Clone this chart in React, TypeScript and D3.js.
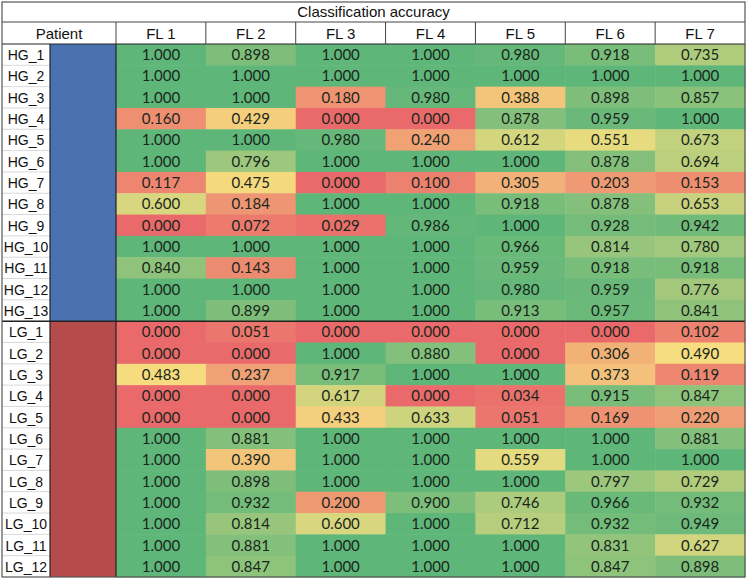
import React, { useEffect, useRef } from 'react';
import * as d3 from 'd3';

const columns = ['FL 1', 'FL 2', 'FL 3', 'FL 4', 'FL 5', 'FL 6', 'FL 7'];
const hgPatients = ['HG_1', 'HG_2', 'HG_3', 'HG_4', 'HG_5', 'HG_6', 'HG_7', 'HG_8', 'HG_9', 'HG_10', 'HG_11', 'HG_12', 'HG_13'];
const lgPatients = ['LG_1', 'LG_2', 'LG_3', 'LG_4', 'LG_5', 'LG_6', 'LG_7', 'LG_8', 'LG_9', 'LG_10', 'LG_11', 'LG_12'];

const hgValues = [
  [1.0, 0.898, 1.0, 1.0, 0.98, 0.918, 0.735],
  [1.0, 1.0, 1.0, 1.0, 1.0, 1.0, 1.0],
  [1.0, 1.0, 0.18, 0.98, 0.388, 0.898, 0.857],
  [0.16, 0.429, 0.0, 0.0, 0.878, 0.959, 1.0],
  [1.0, 1.0, 0.98, 0.24, 0.612, 0.551, 0.673],
  [1.0, 0.796, 1.0, 1.0, 1.0, 0.878, 0.694],
  [0.117, 0.475, 0.0, 0.1, 0.305, 0.203, 0.153],
  [0.6, 0.184, 1.0, 1.0, 0.918, 0.878, 0.653],
  [0.0, 0.072, 0.029, 0.986, 1.0, 0.928, 0.942],
  [1.0, 1.0, 1.0, 1.0, 0.966, 0.814, 0.78],
  [0.84, 0.143, 1.0, 1.0, 0.959, 0.918, 0.918],
  [1.0, 1.0, 1.0, 1.0, 0.98, 0.959, 0.776],
  [1.0, 0.899, 1.0, 1.0, 0.913, 0.957, 0.841],
];

const lgValues = [
  [0.0, 0.051, 0.0, 0.0, 0.0, 0.0, 0.102],
  [0.0, 0.0, 1.0, 0.88, 0.0, 0.306, 0.49],
  [0.483, 0.237, 0.917, 1.0, 1.0, 0.373, 0.119],
  [0.0, 0.0, 0.617, 0.0, 0.034, 0.915, 0.847],
  [0.0, 0.0, 0.433, 0.633, 0.051, 0.169, 0.22],
  [1.0, 0.881, 1.0, 1.0, 1.0, 1.0, 0.881],
  [1.0, 0.39, 1.0, 1.0, 0.559, 1.0, 1.0],
  [1.0, 0.898, 1.0, 1.0, 1.0, 0.797, 0.729],
  [1.0, 0.932, 0.2, 0.9, 0.746, 0.966, 0.932],
  [1.0, 0.814, 0.6, 1.0, 0.712, 0.932, 0.949],
  [1.0, 0.881, 1.0, 1.0, 1.0, 0.831, 0.627],
  [1.0, 0.847, 1.0, 1.0, 1.0, 0.847, 0.898],
];

const App = () => {
  const ref = useRef<SVGSVGElement>(null);

  useEffect(() => {
    const svg = d3.select(ref.current);
    svg.selectAll('*').remove();

    const left = 2, right = 745, top = 2, bottom = 577;
    const titleH = 20, headH = 22;
    const labelW = 48, groupW = 66;
    const dataTop = top + titleH + headH;
    const dataLeft = left + labelW + groupW;
    const sans = '"Liberation Sans", Arial, sans-serif';

    const patients = [...hgPatients, ...lgPatients];
    const rows = patients.map((p, i) => ({
      name: p,
      values: i < hgPatients.length ? hgValues[i] : lgValues[i - hgPatients.length],
    }));

    const y = d3.scaleBand().domain(patients).range([dataTop, bottom]);
    const x = d3.scaleBand().domain(columns).range([dataLeft, right]);
    const color = d3.scaleLinear<string>()
      .domain([0, 0.5, 1])
      .range(['#ea6a6b', '#f6df80', '#5fb679'])
      .interpolate(d3.interpolateRgb);

    svg.append('rect').attr('width', 747).attr('height', 580).attr('fill', '#fff');

    // title
    svg.append('text')
      .attr('x', (left + right) / 2)
      .attr('y', top + titleH / 2 + 5)
      .attr('text-anchor', 'middle')
      .style('font-family', sans)
      .style('font-size', '15px')
      .attr('fill', '#111')
      .text('Classification accuracy');

    // header
    const hy = top + titleH;
    svg.append('text')
      .attr('x', left + (labelW + groupW) / 2)
      .attr('y', hy + headH / 2 + 5.5)
      .attr('text-anchor', 'middle')
      .style('font-family', sans)
      .style('font-size', '15px')
      .attr('fill', '#111')
      .text('Patient');
    svg.selectAll('.colhead')
      .data(columns)
      .enter()
      .append('text')
      .attr('x', (d) => x(d)! + x.bandwidth() / 2)
      .attr('y', hy + headH / 2 + 5.5)
      .attr('text-anchor', 'middle')
      .style('font-family', sans)
      .style('font-size', '15px')
      .attr('fill', '#111')
      .text((d) => d);

    // group colour blocks
    const groups = [
      { fill: '#4a72b0', list: hgPatients },
      { fill: '#b64b4b', list: lgPatients },
    ];
    groups.forEach((g) => {
      const y0 = y(g.list[0])!;
      const y1 = y(g.list[g.list.length - 1])! + y.bandwidth();
      svg.append('rect')
        .attr('x', left + labelW)
        .attr('y', y0)
        .attr('width', groupW)
        .attr('height', y1 - y0)
        .attr('fill', g.fill);
    });

    // cells
    const rowG = svg.selectAll('.row')
      .data(rows)
      .enter()
      .append('g')
      .attr('transform', (d) => `translate(0,${y(d.name)})`);

    rowG.selectAll('rect.cell')
      .data((d) => d.values.map((v, j) => ({ v, col: columns[j] })))
      .enter()
      .append('rect')
      .attr('class', 'cell')
      .attr('x', (d) => x(d.col)!)
      .attr('width', x.bandwidth() + 0.5)
      .attr('height', y.bandwidth() + 0.5)
      .attr('fill', (d) => color(d.v));

    rowG.selectAll('text.val')
      .data((d) => d.values.map((v, j) => ({ v, col: columns[j] })))
      .enter()
      .append('text')
      .attr('class', 'val')
      .attr('x', (d) => x(d.col)! + x.bandwidth() / 2)
      .attr('y', y.bandwidth() / 2 + 5.5)
      .attr('text-anchor', 'middle')
      .style('font-family', 'Lato, "Open Sans", sans-serif')
      .style('font-size', '15px')
      .attr('fill', '#1a261c')
      .text((d) => d.v.toFixed(3));

    rowG.append('text')
      .attr('x', left + labelW / 2)
      .attr('y', y.bandwidth() / 2 + 5.5)
      .attr('text-anchor', 'middle')
      .style('font-family', sans)
      .style('font-size', '14px')
      .attr('fill', '#111')
      .text((d) => d.name);

    // light row separators in label column
    svg.selectAll('.sep')
      .data(patients.slice(1))
      .enter()
      .append('line')
      .attr('x1', left)
      .attr('x2', left + labelW)
      .attr('y1', (d) => y(d)!)
      .attr('y2', (d) => y(d)!)
      .attr('stroke', '#d8d8d8')
      .attr('stroke-width', 1);

    const line = (x1: number, y1: number, x2: number, y2: number, w = 1, c = '#333') =>
      svg.append('line').attr('x1', x1).attr('y1', y1).attr('x2', x2).attr('y2', y2)
        .attr('stroke', c).attr('stroke-width', w);

    // header grid
    line(left, hy, right, hy, 1, '#444');
    line(left, dataTop, right, dataTop, 1.2, '#222');
    columns.forEach((c) => line(x(c)!, hy, x(c)!, dataTop, 1, '#444'));
    // body verticals
    line(left + labelW, dataTop, left + labelW, bottom, 1.2, '#222');
    line(dataLeft, dataTop, dataLeft, bottom, 1.2, '#222');
    // HG / LG split
    const split = y(lgPatients[0])!;
    line(left, split, right, split, 1.5, '#222');

    // outer border
    svg.append('rect')
      .attr('x', left)
      .attr('y', top)
      .attr('width', right - left)
      .attr('height', bottom - top)
      .attr('fill', 'none')
      .attr('stroke', '#555')
      .attr('stroke-width', 1.2);
  }, []);

  return (
    <svg ref={ref} width={747} height={580} style={{ position: 'absolute', left: 0, top: 0 }} />
  );
};

export default App;
